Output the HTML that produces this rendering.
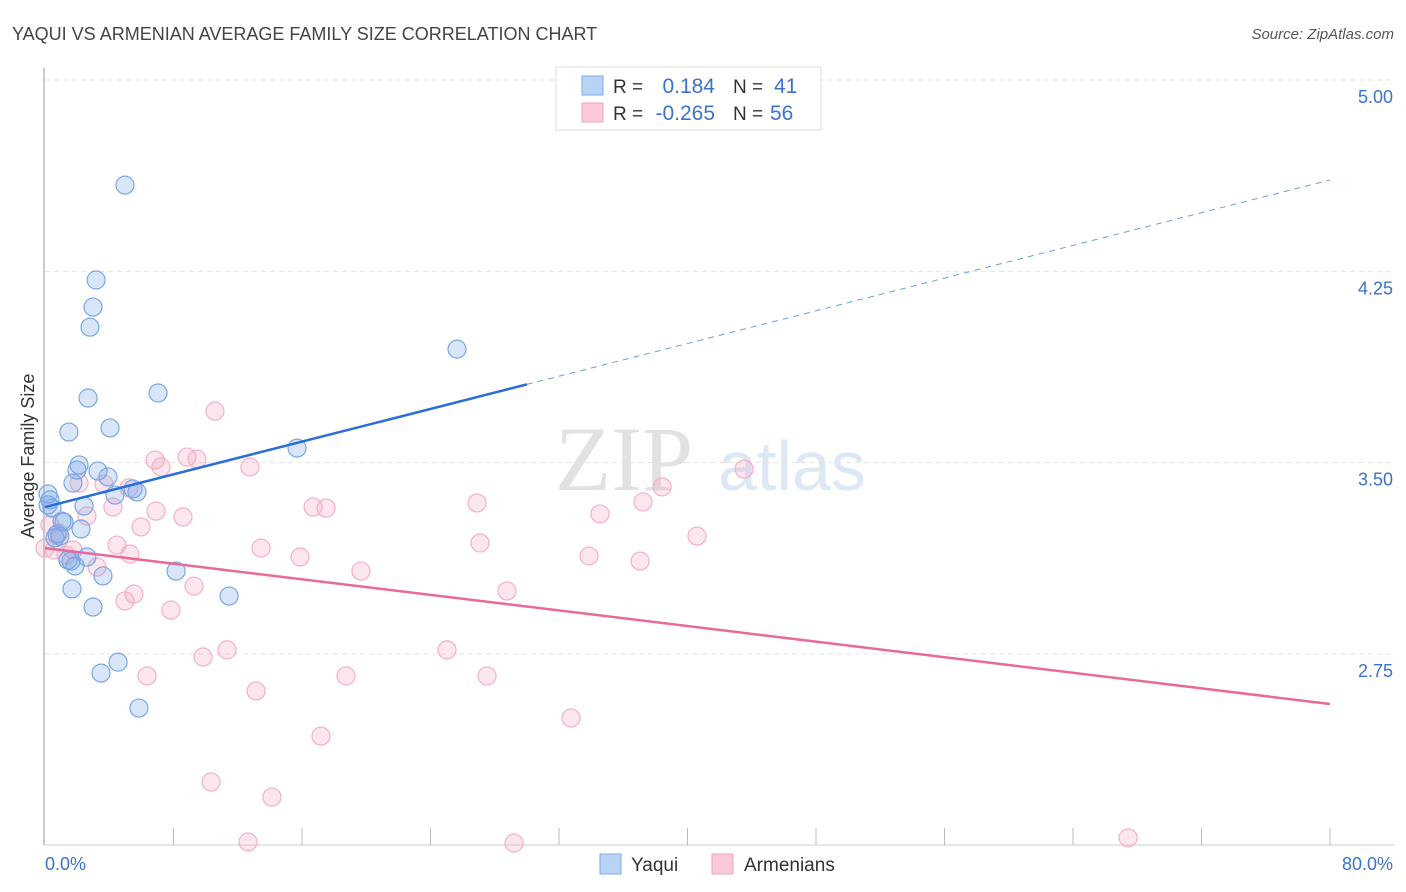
<!DOCTYPE html>
<html><head><meta charset="utf-8"><style>
body{margin:0;background:#fff;font-family:"Liberation Sans",sans-serif;}
svg{display:block}
</style></head><body>
<svg id="chart" width="1406" height="892" xmlns="http://www.w3.org/2000/svg" font-family="Liberation Sans, sans-serif">
<text x="12" y="40" font-size="18" fill="#444">YAQUI VS ARMENIAN AVERAGE FAMILY SIZE CORRELATION CHART</text>
<text x="1394" y="39" font-size="15" fill="#555" text-anchor="end" font-style="italic">Source: ZipAtlas.com</text>
<g>
<text x="555" y="490" font-size="92" fill="#e2e2e2" font-family="Liberation Serif, serif">ZIP</text>
<text x="718" y="490" font-size="70" fill="#dde8f5">atlas</text>
</g>
<g id="grid"></g>
<line x1="44" y1="68" x2="44" y2="845" stroke="#bbb" stroke-width="1.5"/>
<line x1="44" y1="845" x2="1394" y2="845" stroke="#ccc"/>
<g id="xticks"></g>
<g id="yticks"></g>
<text transform="translate(34,456) rotate(-90)" font-size="18" fill="#333" text-anchor="middle">Average Family Size</text>
<text x="45" y="870" font-size="18" fill="#3b73c9">0.0%</text>
<text x="1393" y="870" font-size="18" fill="#3b73c9" text-anchor="end">80.0%</text>
<g id="pink"></g>
<g id="blue"></g>
<g id="trends"></g>
<g>
<rect x="556" y="67" width="265" height="63" fill="#fff" stroke="#ddd"/>
<rect x="582" y="76" width="21" height="19" fill="#b9d3f5" stroke="#7fa9e6"/>
<rect x="582" y="103" width="21" height="19" fill="#fbc9d8" stroke="#f1a3bc"/>
<text x="613" y="93" font-size="19" fill="#333">R =</text>
<text x="715" y="93" font-size="21" fill="#3b73c9" text-anchor="end">0.184</text>
<text x="733" y="93" font-size="19" fill="#333">N =</text>
<text x="774" y="93" font-size="21" fill="#3b73c9">41</text>
<text x="613" y="120" font-size="19" fill="#333">R =</text>
<text x="715" y="120" font-size="21" fill="#3b73c9" text-anchor="end">-0.265</text>
<text x="733" y="120" font-size="19" fill="#333">N =</text>
<text x="770" y="120" font-size="21" fill="#3b73c9">56</text>
</g>
<g>
<rect x="600" y="854" width="21" height="20" fill="#b9d3f5" stroke="#7fa9e6"/>
<text x="631" y="871" font-size="19" fill="#333">Yaqui</text>
<rect x="712" y="854" width="21" height="20" fill="#fbc9d8" stroke="#f1a3bc"/>
<text x="744" y="871" font-size="19" fill="#333">Armenians</text>
</g>
</svg>
<script>
const yTicks=[2.75,3.5,4.25,5.0];
const yTickLabels=["2.75","3.50","4.25","5.00"];
const xTickVals=[8,16,24,32,40,48,56,64,72,80];
const yaquiX=[4.98,3.18,2.99,2.80,25.65,7.04,2.68,4.05,1.49,15.69,2.12,1.99,3.30,3.92,1.74,5.48,5.73,4.36,0.19,0.31,0.44,2.43,1.06,1.18,2.24,0.75,0.93,2.61,1.43,1.62,1.87,3.61,8.16,1.68,11.46,2.99,4.55,3.49,5.85,0.19,0.62];
const yaquiY=[4.588,4.216,4.110,4.031,3.945,3.773,3.753,3.636,3.620,3.557,3.491,3.471,3.467,3.444,3.420,3.397,3.385,3.373,3.377,3.354,3.322,3.330,3.271,3.267,3.240,3.220,3.212,3.130,3.118,3.114,3.095,3.056,3.075,3.005,2.977,2.934,2.718,2.675,2.538,3.334,3.205];
const armX=[10.58,6.85,8.84,9.46,7.22,12.76,2.12,3.67,5.23,38.42,43.52,26.90,37.23,16.69,17.50,4.23,6.91,8.59,2.61,34.55,5.98,40.59,0.31,0.87,27.08,4.48,13.45,0.56,1.74,5.29,33.87,15.88,37.05,3.24,19.67,9.28,5.54,4.98,28.76,7.84,9.84,11.33,25.03,6.35,18.74,27.52,13.14,32.75,17.18,10.34,14.13,12.64,29.20,67.43,1.31,0];
const armY=[3.702,3.510,3.522,3.514,3.483,3.483,3.420,3.416,3.401,3.405,3.475,3.342,3.346,3.326,3.322,3.326,3.310,3.287,3.291,3.299,3.248,3.212,3.256,3.224,3.185,3.177,3.165,3.158,3.158,3.142,3.134,3.130,3.114,3.091,3.075,3.016,2.985,2.958,2.997,2.922,2.738,2.766,2.766,2.664,2.664,2.664,2.605,2.499,2.428,2.248,2.189,2.013,2.009,2.029,3.138,3.165];
const yaquiTrend=[3.326,4.608];
const yaquiSolidEnd=30.0;
const armTrend=[3.165,2.554];

const NS="http://www.w3.org/2000/svg";
const sx=v=>45+v/80*1285;
const sy=v=>80+(5-v)*255.1;
function mk(tag,parent,attrs){const e=document.createElementNS(NS,tag);for(const k in attrs)e.setAttribute(k,attrs[k]);parent.appendChild(e);return e;}
const grid=document.getElementById('grid'),yt=document.getElementById('yticks'),xt=document.getElementById('xticks');
yTicks.forEach((v,i)=>{
 const l=mk('line',grid,{x1:45,x2:1394,y1:sy(v),y2:sy(v),stroke:'#e3e3e3','stroke-dasharray':'5,4'});
 
 
 const t=mk('text',yt,{x:1393,y:sy(v)+23,'font-size':18,fill:'#3b73c9','text-anchor':'end'});
 t.textContent=yTickLabels[i];
 
 
});
xTickVals.forEach(v=>{
 const l=mk('line',xt,{x1:sx(v),x2:sx(v),y1:828,y2:845,stroke:'#bbb'});
 
 
});
const pink=document.getElementById('pink');
armX.forEach((x,i)=>{
 const c=mk('circle',pink,{cx:sx(x),cy:sy(armY[i]),r:9,fill:'rgba(244,160,188,0.25)',stroke:'#f4b0c6','stroke-width':1.2});
 
 
});
const blue=document.getElementById('blue');
yaquiX.forEach((x,i)=>{
 const c=mk('circle',blue,{cx:sx(x),cy:sy(yaquiY[i]),r:9,fill:'rgba(120,165,235,0.28)',stroke:'#7aa6e4','stroke-width':1.2});
 
 
});
const tr=document.getElementById('trends');
const by=x=>yaquiTrend[0]+(yaquiTrend[1]-yaquiTrend[0])*x/80;
const l1=mk('line',tr,{x1:sx(0),y1:sy(by(0)),x2:sx(yaquiSolidEnd),y2:sy(by(yaquiSolidEnd)),stroke:'#2a6fd6','stroke-width':2.5});


const l2=mk('line',tr,{x1:sx(yaquiSolidEnd),y1:sy(by(yaquiSolidEnd)),x2:sx(80),y2:sy(by(80)),stroke:'#6c9de2','stroke-width':1,'stroke-dasharray':'6,5'});


const l3=mk('line',tr,{x1:sx(0),y1:sy(armTrend[0]),x2:sx(80),y2:sy(armTrend[1]),stroke:'#e8699a','stroke-width':2.5});


</script>
</body></html>
